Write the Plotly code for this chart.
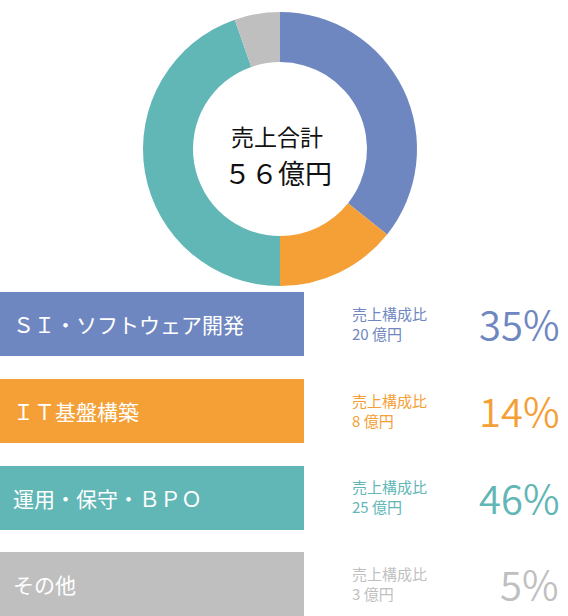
import plotly.graph_objects as go

W, H = 568, 616

categories = ["ＳＩ・ソフトウェア開発", "ＩＴ基盤構築", "運用・保守・ＢＰＯ", "その他"]
sales_oku = [20, 8, 25, 3]          # 億円
share_pct = [35, 14, 46, 5]         # 売上構成比 (%), as labelled
colors = ["#6F87C0", "#F4A037", "#61B6B6", "#BFBFBF"]
total_label = "５６億円"

FONT = "Noto Sans CJK JP"


def px_x(x):
    return x / W


def px_y(y):
    return 1 - y / H


fig = go.Figure()
fig.add_trace(go.Pie(
    labels=categories, values=sales_oku,
    marker=dict(colors=colors, line=dict(width=0)),
    hole=0.635, sort=False, direction="clockwise", rotation=0,
    textinfo="none", hoverinfo="label+value+percent", showlegend=False,
    domain=dict(x=[px_x(143), px_x(417)], y=[px_y(286), px_y(12)]),
))

annotations = [
    dict(text="売上合計", x=px_x(277), y=px_y(136), font=dict(size=23, color="#111")),
    dict(text=total_label, x=px_x(278), y=px_y(172), font=dict(size=27, color="#111")),
]
shapes = []

row_tops = [292, 379, 466, 552]
row_h = 64
for cat, oku, pct, col, top in zip(categories, sales_oku, share_pct, colors, row_tops):
    mid = top + row_h / 2
    shapes.append(dict(
        type="rect", xref="paper", yref="paper",
        x0=0, x1=px_x(304), y0=px_y(top + row_h), y1=px_y(top),
        fillcolor=col, line=dict(width=0), layer="below",
    ))
    annotations.append(dict(
        text=cat, x=px_x(11), y=px_y(mid), xanchor="left",
        font=dict(size=21, color="white"),
    ))
    annotations.append(dict(
        text=f"売上構成比<br>{oku} 億円", x=px_x(350), y=px_y(mid - 1),
        xanchor="left", align="left",
        font=dict(size=15, color=col),
    ))
    annotations.append(dict(
        text=f"{pct}%", x=px_x(561), y=px_y(mid - 1), xanchor="right",
        font=dict(size=40, color=col, weight=350),
    ))

for a in annotations:
    a.update(xref="paper", yref="paper", showarrow=False)
    a.setdefault("yanchor", "middle")
    a["font"].setdefault("family", FONT)

fig.update_layout(
    width=W, height=H,
    margin=dict(l=0, r=0, t=0, b=0),
    paper_bgcolor="white", plot_bgcolor="white",
    font=dict(family=FONT),
    shapes=shapes, annotations=annotations,
)
# the page's default 8px body margin would push the figure off the window
fig.write_html("out.html", config={"displayModeBar": False},
               post_script="document.body.style.margin='0';")
